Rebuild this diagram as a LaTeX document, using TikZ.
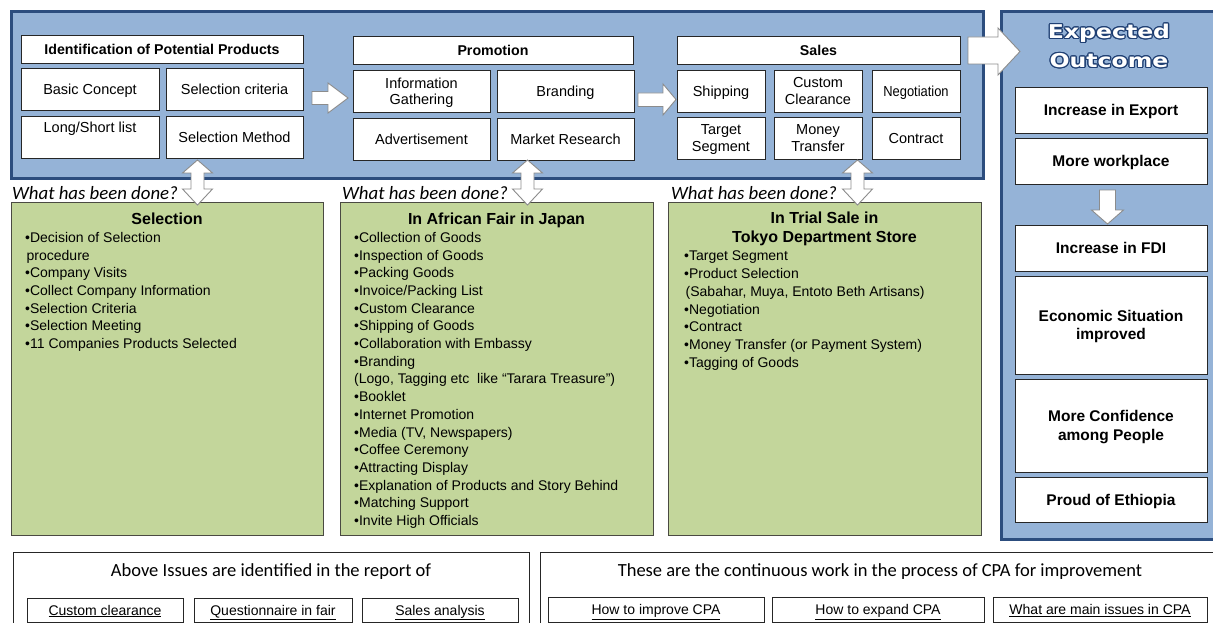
\documentclass[tikz,border=0pt]{standalone}
\usepackage{fontspec}
\usepackage{graphicx}
\usepackage[copies]{contour}
\setmainfont{Liberation Sans}
\newfontfamily\calibfont{Carlito}
\newfontfamily\expfont{DejaVu Sans}[FakeStretch=1.24]
\contourlength{1.2pt}

\definecolor{panelfill}{HTML}{95B3D7}
\definecolor{paneledge}{HTML}{2C4D7E}
\definecolor{greenfill}{HTML}{C3D69B}
\definecolor{greenedge}{HTML}{4A4A42}
\definecolor{arrowedge}{HTML}{8C8C8C}
\definecolor{titleedge}{HTML}{1F3F73}

\tikzset{
  panel/.style={fill=panelfill, draw=paneledge, line width=2.7pt},
  wbox/.style={draw=black!85, fill=white, line width=0.9pt, inner sep=0pt,
    align=center, text depth=0pt, font=\fontsize{14.5}{16.5}\selectfont},
  hbox/.style={wbox, font=\bfseries\fontsize{14.2}{16.5}\selectfont},
  obox/.style={wbox, minimum width=192, font=\bfseries\fontsize{15.5}{18.5}\selectfont},
  gbox/.style={draw=greenedge, fill=greenfill, line width=1.1pt, inner sep=0pt},
  ghead/.style={font=\bfseries\fontsize{16}{19}\selectfont, align=center, inner sep=0pt},
  glist/.style={font=\fontsize{14}{17.7}\selectfont, align=left, inner sep=0pt, anchor=north west},
  askq/.style={font=\calibfont\itshape\fontsize{18.8}{20}\selectfont, inner sep=0pt, anchor=base west},
  blockarrow/.style={fill=white, draw=arrowedge, line width=0.9pt, line join=miter},
  bbox/.style={draw=black!85, line width=0.9pt, inner sep=0pt},
  rbox/.style={draw=black!85, fill=white, line width=0.9pt, inner sep=0pt,
    text height=10pt, text depth=0pt, font=\fontsize{14}{16}\selectfont},
  btext/.style={font=\calibfont\fontsize{18.5}{20}\selectfont, inner sep=0pt}
}

\begin{document}
\begin{tikzpicture}[x=1pt,y=-1pt]
\path[use as bounding box] (0,0) rectangle (1213,623);
\clip (0,0) rectangle (1213,623);

% ---------- process panel ----------
\node[panel, minimum width=972, minimum height=167, anchor=north west] (proc) at (10,10) {};

% identification column
\node[hbox, minimum width=282, minimum height=28] (ident) at (162,49) {Identification of Potential Products};
\node[wbox, minimum width=138, minimum height=42] (basic) at (90,89) {Basic Concept};
\node[wbox, minimum width=137, minimum height=42] (crit) at (234.5,89) {Selection criteria};
\node[wbox, minimum width=138, minimum height=42, text height=10pt, text depth=18pt] (list) at (90,137) {Long/Short list};
\node[wbox, minimum width=137, minimum height=42] (method) at (234.5,137) {Selection Method};

% promotion column
\node[hbox, minimum width=280, minimum height=28] (promo) at (493,50) {Promotion};
\node[wbox, minimum width=137, minimum height=42] (info) at (421.5,91) {Information\\Gathering};
\node[wbox, minimum width=137, minimum height=42] (brand) at (565.5,91) {Branding};
\node[wbox, minimum width=137, minimum height=42] (advert) at (421.5,139) {Advertisement};
\node[wbox, minimum width=137, minimum height=42] (research) at (565.5,139) {Market Research};

% sales column
\node[hbox, minimum width=283, minimum height=28] (sales) at (818.5,50) {Sales};
\node[wbox, minimum width=88, minimum height=42] (ship) at (721,91) {Shipping};
\node[wbox, minimum width=88, minimum height=42] (custom) at (818,91) {Custom\\Clearance};
\node[wbox, minimum width=88, minimum height=42] (nego) at (916,91) {\scalebox{0.89}[1]{Negotiation}};
\node[wbox, minimum width=88, minimum height=42] (target) at (721,138) {Target\\Segment};
\node[wbox, minimum width=88, minimum height=42] (money) at (818,138) {Money\\Transfer};
\node[wbox, minimum width=88, minimum height=42] (contract) at (916,138) {Contract};

% ---------- expected outcome panel ----------
\node[panel, minimum width=214, minimum height=528, anchor=north west] (outcome) at (1000,10) {};
\node[text=white, font=\expfont\bfseries\fontsize{19}{29}\selectfont, align=center, inner sep=0pt]
  (otitle) at (1109,46.5) {\contour{titleedge}{Expected}\\\contour{titleedge}{Outcome}};
\node[obox, minimum height=46] (export) at (1111,110) {Increase in Export};
\node[obox, minimum height=46] (work) at (1111,161) {More workplace};
\node[obox, minimum height=46] (fdi) at (1111,248) {Increase in FDI};
\node[obox, minimum height=98] (econ) at (1111,325) {Economic Situation\\improved};
\node[obox, minimum height=93] (conf) at (1111,425.5) {More Confidence\\among People};
\node[obox, minimum height=45] (proud) at (1111,499.5) {Proud of Ethiopia};

% ---------- what has been done ----------
\node[askq] (q1) at (12,199) {What has been done?};
\node[askq] (q2) at (342,199) {What has been done?};
\node[askq] (q3) at (671,199) {What has been done?};

\node[gbox, minimum width=312, minimum height=333, anchor=north west] (g1) at (11,202) {};
\node[gbox, minimum width=313, minimum height=333, anchor=north west] (g2) at (340,202) {};
\node[gbox, minimum width=313, minimum height=333, anchor=north west] (g3) at (668,202) {};

\node[ghead] (g1h) at (167,219) {Selection};
\node[glist] (g1l) at (25,232) {•Decision of Selection\\\hspace*{1.5pt}procedure\\•Company Visits\\•Collect Company Information\\•Selection Criteria\\•Selection Meeting\\•11 Companies Products Selected};

\node[ghead] (g2h) at (496.5,220) {In African Fair in Japan};
\node[glist] (g2l) at (354,232) {•Collection of Goods\\•Inspection of Goods\\•Packing Goods\\•Invoice/Packing List\\•Custom Clearance\\•Shipping of Goods\\•Collaboration with Embassy\\•Branding\\(Logo, Tagging etc\ \ like “Tarara Treasure”)\\•Booklet\\•Internet Promotion\\•Media (TV, Newspapers)\\•Coffee Ceremony\\•Attracting Display\\•Explanation of Products and Story Behind\\•Matching Support\\•Invite High Officials};

\node[ghead] (g3h) at (824.5,228.5) {In Trial Sale in\\Tokyo Department Store};
\node[glist] (g3l) at (684,251) {•Target Segment\\•Product Selection\\\hspace*{1.5pt}(Sabahar, Muya, Entoto Beth Artisans)\\•Negotiation\\•Contract\\•Money Transfer (or Payment System)\\•Tagging of Goods};

% ---------- block arrows ----------
\draw[blockarrow] (312,91.5) -- (328,91.5) -- (328,83) -- (348,98) -- (328,113) -- (328,104.5) -- (312,104.5) -- cycle;
\draw[blockarrow] (638,93) -- (663,93) -- (663,84) -- (676,99.5) -- (663,115) -- (663,106.5) -- (638,106.5) -- cycle;
\draw[blockarrow] (968,37) -- (998,37) -- (998,28) -- (1020,51.5) -- (998,75) -- (998,64) -- (968,64) -- cycle;
\foreach \xc in {197.5,527.5,857.5}{
  \draw[blockarrow] (\xc,160) -- (\xc+15,173) -- (\xc+6.5,173) -- (\xc+6.5,189) -- (\xc+15,189)
    -- (\xc,205) -- (\xc-15,189) -- (\xc-6.5,189) -- (\xc-6.5,173) -- (\xc-15,173) -- cycle;
}
\draw[blockarrow] (1099.5,190) -- (1115.5,190) -- (1115.5,210) -- (1123.5,210) -- (1107.5,224)
  -- (1091.5,210) -- (1099.5,210) -- cycle;

% ---------- report boxes ----------
\node[bbox, minimum width=516, minimum height=90, anchor=north west] (issues) at (13,552) {};
\node[btext] (issuest) at (271,572) {Above Issues are identified in the report of};
\node[rbox, minimum width=156, minimum height=24] (r1) at (105,610) {\underline{Custom clearance}};
\node[rbox, minimum width=158, minimum height=24] (r2) at (273,610) {\underline{Questionnaire in fair}};
\node[rbox, minimum width=156, minimum height=24] (r3) at (440,610) {\underline{Sales analysis}};

\node[bbox, minimum width=690, minimum height=90, anchor=north west] (cpa) at (540,552) {};
\node[btext] (cpat) at (880,572) {These are the continuous work in the process of CPA for improvement};
\node[rbox, minimum width=216, minimum height=25] (c1) at (656,609.5) {\underline{How to improve CPA}};
\node[rbox, minimum width=212, minimum height=25] (c2) at (878,609.5) {\underline{How to expand CPA}};
\node[rbox, minimum width=214, minimum height=25] (c3) at (1100,609.5) {\underline{What are main issues in CPA}};
\end{tikzpicture}
\end{document}
